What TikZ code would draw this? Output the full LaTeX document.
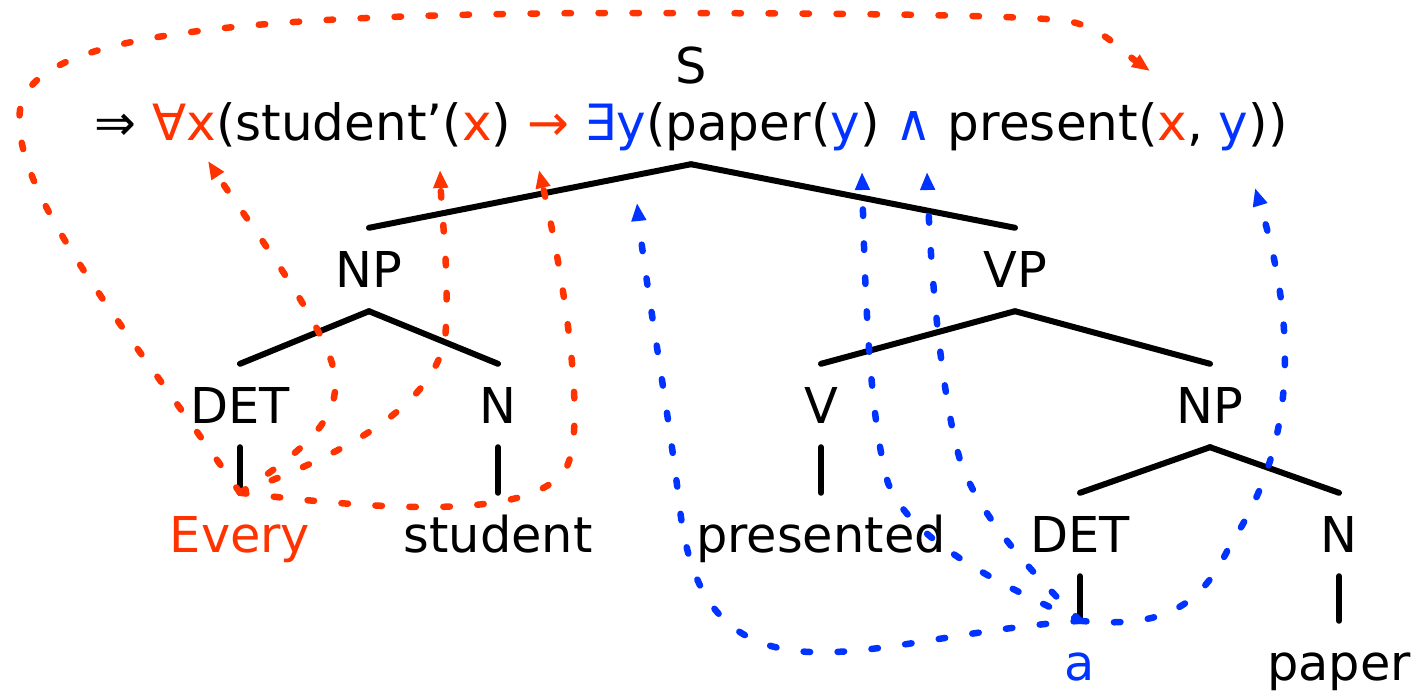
\documentclass[tikz,border=0pt]{standalone}
\usepackage{fontspec}
\setmainfont{DejaVu Sans}
\usetikzlibrary{arrows.meta}
\definecolor{qred}{RGB}{255,51,0}
\definecolor{qblue}{RGB}{0,51,255}

\begin{document}
\begin{tikzpicture}[x=1pt, y=-1pt,
    every node/.style={font=\fontsize{49.4pt}{59pt}\selectfont, anchor=base,
      text height=47pt, text depth=12pt, inner ysep=12pt, inner xsep=0pt},
    branch/.style={line width=6pt, line cap=round},
    link/.style={line width=6.5pt, line cap=round, dash pattern=on 6.5pt off 27.5pt,
      -{Triangle[length=18pt, width=14pt]}}]
    \useasboundingbox (0,0) rectangle (1419,691);

    % root and logical form
    \node (s) at (691,83) {S};
    \node[font=\fontsize{50pt}{60pt}\selectfont] (lf) at (691,140) {⇒ {\color{qred}∀x}(student’({\color{qred}x}) {\color{qred}→}
      {\color{qblue}∃y}(paper({\color{qblue}y}) {\color{qblue}∧} present({\color{qred}x}, {\color{qblue}y}))};

    % phrases
    \node (np) at (369,287) {NP}; \node (vp) at (1015,287) {VP};
    \node (det) at (240,423) {DET}; \node (n) at (498,423) {N};
    \node (v) at (821,423) {V}; \node (np2) at (1210,423) {NP};
    \node (det2) at (1080,552) {DET}; \node (n2) at (1339,552) {N};

    % words
    \node[qred] (every) at (240,552) {Every}; \node (student) at (498,552) {student};
    \node (presented) at (821,552) {presented};
    \node[qblue] (a) at (1080,680) {a}; \node (paper) at (1339,680) {paper};

    % tree
    \draw[branch] (lf.south) -- (np.north); \draw[branch] (lf.south) -- (vp.north);
    \draw[branch] (np.south) -- (det.north); \draw[branch] (np.south) -- (n.north);
    \draw[branch] (vp.south) -- (v.north); \draw[branch] (vp.south) -- (np2.north);
    \draw[branch] (np2.south) -- (det2.north); \draw[branch] (np2.south) -- (n2.north);
    \draw[branch] (det.south) -- (every.north); \draw[branch] (n.south) -- (student.north);
    \draw[branch] (v.south) -- (presented.north);
    \draw[branch] (det2.south) -- (a.north); \draw[branch] (n2.south) -- (paper.north);

    % targets in the formula
    \coordinate (forall) at (208,161); \coordinate (xone) at (440,170);
    \coordinate (implies) at (539,170); \coordinate (xtwo) at (1150,71);
    \coordinate (exists) at (637,203); \coordinate (yone) at (862,172);
    \coordinate (wedge) at (927,172); \coordinate (ytwo) at (1255,188);

    % every
    \draw[link, qred] (every.north) .. controls (120,320) and (10,190) .. (20,110)
      .. controls (30,40) and (200,15) .. (600,13) .. controls (850,13) and (1000,15) .. (1060,20)
      .. controls (1100,24) and (1120,50) .. (xtwo);
    \draw[link, qred] (every.north) .. controls (320,440) and (345,410) .. (332,363)
      .. controls (315,310) and (240,210) .. (forall);
    \draw[link, qred] (every.north) .. controls (340,455) and (430,410) .. (445,340)
      .. controls (450,280) and (442,220) .. (xone);
    \draw[link, qred] (every.north) .. controls (400,512) and (530,518) .. (565,470)
      .. controls (590,430) and (560,260) .. (implies);

    % a
    \draw[link, qblue] (a.north) .. controls (960,630) and (880,655) .. (810,652)
      .. controls (720,648) and (690,590) .. (680,510) .. controls (670,420) and (645,280) .. (exists);
    \draw[link, qblue] (a.north) .. controls (1000,585) and (910,540) .. (888,483)
      .. controls (870,420) and (865,300) .. (yone);
    \draw[link, qblue] (a.north) .. controls (1040,580) and (980,520) .. (960,460)
      .. controls (940,390) and (930,260) .. (wedge);
    \draw[link, qblue] (a.north) .. controls (1160,628) and (1200,610) .. (1230,545)
      .. controls (1300,440) and (1295,320) .. (ytwo);
\end{tikzpicture}
\end{document}
